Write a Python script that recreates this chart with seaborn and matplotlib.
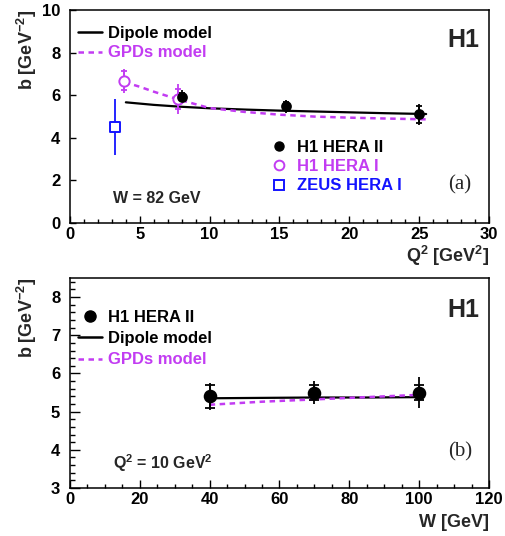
import numpy as np
import pandas as pd
import matplotlib
matplotlib.use("Agg")
import matplotlib.pyplot as plt
from matplotlib.ticker import MultipleLocator
from matplotlib.lines import Line2D
import seaborn as sns

# ── data: panel (a), b vs Q^2 at W = 82 GeV ───────────────────────────────────
dip_q2 = [4.0, 6.0, 8.0, 10.0, 12.5, 15.0, 17.5, 20.0, 22.5, 25.5]
dip_b_q2 = [5.67, 5.55, 5.46, 5.39, 5.33, 5.28, 5.24, 5.20, 5.16, 5.12]
gpd_q2 = [3.9, 5.0, 6.0, 7.0, 8.0, 10.0, 12.5, 15.0, 17.5, 20.0, 22.5, 25.5]
gpd_b_q2 = [6.62, 6.40, 6.17, 5.96, 5.76, 5.40, 5.22, 5.09, 5.00, 4.95, 4.91, 4.87]

h1new_q2 = [8.0, 15.5, 25.0]
h1new_b = [5.92, 5.49, 5.10]
h1new_stat = [0.17, 0.20, 0.40]
h1new_tot = [0.33, 0.30, 0.50]

h1old_q2 = [3.9, 7.7]
h1old_b = [6.68, 5.82]
h1old_stat = [0.45, 0.47]
h1old_tot = [0.57, 0.72]

zeus_q2 = [3.2]
zeus_b = [4.50]
zeus_err = [1.32]

# ── data: panel (b), b vs W at Q^2 = 10 GeV^2 ─────────────────────────────────
dip_w = [40, 55, 70, 85, 100]
dip_b_w = [5.35, 5.36, 5.37, 5.37, 5.38]
gpd_w = [40, 55, 70, 85, 100]
gpd_b_w = [5.18, 5.26, 5.32, 5.38, 5.44]

h1w_w = [40, 70, 100]
h1w_b = [5.40, 5.50, 5.50]
h1w_stat = [0.30, 0.20, 0.20]
h1w_tot = [0.35, 0.30, 0.40]

MAGENTA = "#c23cf2"
BLUE = "#1414ff"
GPD_DASH = (0, (2.2, 1.8))

sns.set_style("ticks")
plt.rcParams["font.family"] = ["Liberation Sans", "DejaVu Sans"]
plt.rcParams["font.weight"] = "bold"
plt.rcParams["mathtext.fontset"] = "custom"
plt.rcParams["mathtext.rm"] = "Liberation Sans:bold"
plt.rcParams["mathtext.bf"] = "Liberation Sans:bold"
plt.rcParams["mathtext.default"] = "bf"

fig = plt.figure(figsize=(5.05, 5.36), dpi=100)
ax1 = fig.add_axes([0.1386, 0.584, 0.8297, 0.397])
ax2 = fig.add_axes([0.1386, 0.0896, 0.8297, 0.3917])


def style_axis(ax, xlen, ylen):
    for s in ax.spines.values():
        s.set_linewidth(1.1)
        s.set_color("black")
    ax.tick_params(which="both", direction="in", top=False, right=False,
                   width=1.0, colors="black", labelsize=12)
    ax.tick_params(axis="x", which="major", length=xlen[0], pad=3)
    ax.tick_params(axis="x", which="minor", length=xlen[1])
    ax.tick_params(axis="y", which="major", length=ylen[0], pad=7)
    ax.tick_params(axis="y", which="minor", length=ylen[1])
    for lab in ax.get_xticklabels() + ax.get_yticklabels():
        lab.set_fontweight("bold")


def models(ax, x_d, y_d, x_g, y_g):
    sns.lineplot(x=x_d, y=y_d, ax=ax, color="black", lw=1.6, sort=False)
    sns.lineplot(x=x_g, y=y_g, ax=ax, color=MAGENTA, lw=1.8, sort=False,
                 linestyle=GPD_DASH)


def points(ax, x, y, stat, tot, color, marker, size, filled=True, cap=2.5):
    ax.errorbar(x, y, yerr=tot, fmt="none", ecolor=color, elinewidth=1.3,
                capsize=0, zorder=3)
    ax.errorbar(x, y, yerr=stat, fmt="none", ecolor=color, elinewidth=1.3,
                capsize=cap, capthick=1.3, zorder=3)
    sns.scatterplot(x=x, y=y, ax=ax, marker=marker, s=size,
                    color=color if filled else "white",
                    edgecolor=color, linewidth=1.4, zorder=4)


def color_texts(leg, colors):
    for t, c in zip(leg.get_texts(), colors):
        t.set_color(c)
        t.set_fontweight("bold")


# ── panel (a) ────────────────────────────────────────────────────────────────
models(ax1, dip_q2, dip_b_q2, gpd_q2, gpd_b_q2)
points(ax1, zeus_q2, zeus_b, [0] * len(zeus_b), zeus_err, BLUE, "s", 55,
       filled=False, cap=3)
points(ax1, h1old_q2, h1old_b, h1old_stat, h1old_tot, MAGENTA, "o", 55,
       filled=False)
points(ax1, h1new_q2, h1new_b, h1new_stat, h1new_tot, "black", "o", 40)

ax1.set_xlim(0, 30)
ax1.set_ylim(0, 10)
ax1.xaxis.set_major_locator(MultipleLocator(5))
ax1.xaxis.set_minor_locator(MultipleLocator(1))
ax1.yaxis.set_major_locator(MultipleLocator(2))
style_axis(ax1, (5, 3), (4.5, 2.5))
ax1.set_xlabel(r"Q$^{2}$ [GeV$^{2}$]", fontsize=13, fontweight="bold", loc="right")
ax1.set_ylabel(r"b [GeV$^{-2}$]", fontsize=13, fontweight="bold", loc="top")
ax1.xaxis.set_label_coords(1.0, -0.10)
ax1.yaxis.set_label_coords(-0.074, 1.0)

leg_m = ax1.legend(
    handles=[Line2D([], [], color="black", lw=1.8),
             Line2D([], [], color=MAGENTA, lw=1.8, ls=GPD_DASH)],
    labels=["Dipole model", "GPDs model"],
    loc="upper left", bbox_to_anchor=(0.01, 0.94), frameon=False,
    fontsize=12, handlelength=1.45, handletextpad=0.35, labelspacing=0.25,
    borderpad=0.2, borderaxespad=0)
color_texts(leg_m, ["black", MAGENTA])
ax1.add_artist(leg_m)

leg_d = ax1.legend(
    handles=[Line2D([], [], ls="none", marker="o", ms=6.5, color="black"),
             Line2D([], [], ls="none", marker="o", ms=7, mfc="white",
                    mec=MAGENTA, mew=1.4),
             Line2D([], [], ls="none", marker="s", ms=7, mfc="white",
                    mec=BLUE, mew=1.4)],
    labels=["H1 HERA II", "H1 HERA I", "ZEUS HERA I"],
    loc="upper left", bbox_to_anchor=(0.47, 0.405), frameon=False,
    fontsize=12, handlelength=1.0, handletextpad=0.6, labelspacing=0.25,
    borderpad=0.2, borderaxespad=0)
color_texts(leg_d, ["black", MAGENTA, BLUE])

ax1.text(0.938, 0.859, "H1", transform=ax1.transAxes, fontsize=18,
         fontweight="bold", ha="center", va="center")
ax1.text(0.102, 0.116, "W = 82 GeV", transform=ax1.transAxes, fontsize=11.5,
         fontweight="bold", ha="left", va="center")
ax1.text(0.931, 0.178, "(a)", transform=ax1.transAxes, fontsize=15,
         family=["Liberation Serif"], fontweight="normal", ha="center",
         va="center")

# ── panel (b) ────────────────────────────────────────────────────────────────
models(ax2, dip_w, dip_b_w, gpd_w, gpd_b_w)
points(ax2, h1w_w, h1w_b, h1w_stat, h1w_tot, "black", "o", 70, cap=3.6)

ax2.set_xlim(0, 120)
ax2.set_ylim(3, 8.5)
ax2.xaxis.set_major_locator(MultipleLocator(20))
ax2.xaxis.set_minor_locator(MultipleLocator(5))
ax2.yaxis.set_major_locator(MultipleLocator(1))
ax2.yaxis.set_minor_locator(MultipleLocator(0.2))
style_axis(ax2, (6, 3.2), (7, 3.6))
ax2.set_xlabel("W [GeV]", fontsize=13, fontweight="bold", loc="right")
ax2.set_ylabel(r"b [GeV$^{-2}$]", fontsize=13, fontweight="bold", loc="top")
ax2.xaxis.set_label_coords(1.0, -0.125)
ax2.yaxis.set_label_coords(-0.074, 1.0)

leg_b = ax2.legend(
    handles=[Line2D([], [], ls="none", marker="o", ms=8, color="black"),
             Line2D([], [], color="black", lw=1.8),
             Line2D([], [], color=MAGENTA, lw=1.8, ls=GPD_DASH)],
    labels=["H1 HERA II", "Dipole model", "GPDs model"],
    loc="upper left", bbox_to_anchor=(0.01, 0.865), frameon=False,
    fontsize=12, handlelength=1.45, handletextpad=0.35, labelspacing=0.38,
    borderpad=0.2, borderaxespad=0)
color_texts(leg_b, ["black", "black", MAGENTA])

ax2.text(0.938, 0.848, "H1", transform=ax2.transAxes, fontsize=18,
         fontweight="bold", ha="center", va="center")
ax2.text(0.102, 0.118, r"Q$^{2}$ = 10 GeV$^{2}$", transform=ax2.transAxes,
         fontsize=11.5, fontweight="bold", ha="left", va="center")
ax2.text(0.931, 0.173, "(b)", transform=ax2.transAxes, fontsize=15,
         family=["Liberation Serif"], fontweight="normal", ha="center",
         va="center")

fig.savefig("out.png", dpi=100)
